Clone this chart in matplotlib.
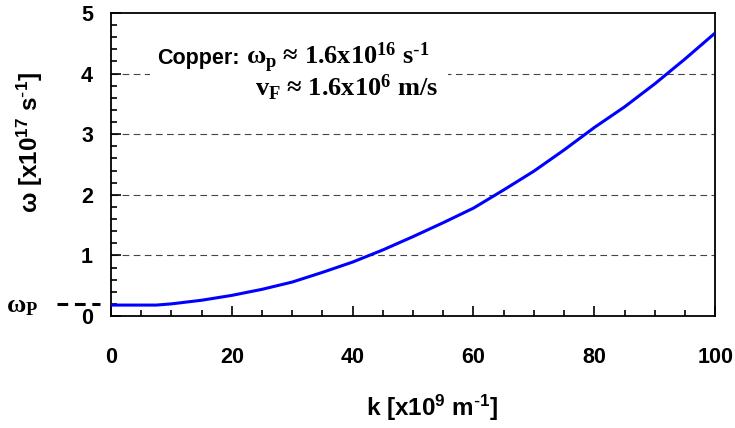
import matplotlib
matplotlib.use("Agg")
import matplotlib.pyplot as plt
from matplotlib.patches import Rectangle
from matplotlib.ticker import MultipleLocator

# dispersion curve
k_vals = [0, 5, 7.5, 10, 15, 20, 25, 30, 35, 40, 45, 50, 55, 60, 65, 70, 75, 80, 85, 90, 95, 100]
omega_vals = [0.18, 0.18, 0.18, 0.20, 0.26, 0.34, 0.44, 0.56, 0.72, 0.89, 1.09, 1.31,
              1.54, 1.78, 2.08, 2.39, 2.74, 3.11, 3.45, 3.83, 4.24, 4.67]
omega_p = 0.2
grid_levels = [1, 2, 3, 4]

plt.rcParams['mathtext.fontset'] = 'custom'
plt.rcParams['mathtext.default'] = 'regular'

sans = 'Liberation Sans'
serif = 'Liberation Serif'

fig = plt.figure(figsize=(7.35, 4.28), dpi=100)
ax = fig.add_axes([0.151, 0.2617, 0.822, 0.708])

for g in grid_levels:
	ax.axhline(g, color='#444444', lw=0.8, ls=(0, (6, 4)), zorder=1)

ax.plot(k_vals, omega_vals, color='#0000ff', lw=2.2, zorder=3,
	solid_joinstyle='round')

ax.set_xlim(0, 100)
ax.set_ylim(0, 5)
ax.xaxis.set_major_locator(MultipleLocator(20))
ax.xaxis.set_minor_locator(MultipleLocator(5))
ax.yaxis.set_major_locator(MultipleLocator(1))
ax.yaxis.set_minor_locator(MultipleLocator(0.2))
ax.tick_params(which='both', direction='in', width=1.2, color='black')
ax.tick_params(which='major', length=7)
ax.tick_params(which='minor', length=4)
ax.tick_params(axis='x', pad=22)
ax.tick_params(axis='y', pad=13)
for lab in ax.get_xticklabels() + ax.get_yticklabels():
	lab.set_fontfamily(sans)
	lab.set_fontweight('bold')
	lab.set_fontsize(15.5)
for sp in ax.spines.values():
	sp.set_linewidth(1.3)

fig.text(432 / 735, 1 - 408 / 428, 'k [x10$^9$ m$^{\\text{-}1}$]', ha='center', va='center',
	fontfamily=sans, fontweight='bold', fontsize=17.5)
fig.text(30 / 735, 1 - 143 / 428, 'ω [x10$^{17}$ s$^{\\text{-}1}$]', ha='center', va='center',
	rotation=90, fontfamily=sans, fontweight='bold', fontsize=17.5)

# omega_p marker left of the axis
ax.plot([-9, -1.8], [omega_p, omega_p], color='black', lw=2.2, ls=(0, (3.5, 2.2)),
	clip_on=False)
ax.text(-12.1, omega_p - 0.05, 'ω$_P$', ha='right', va='center',
	fontfamily=serif, fontweight='bold', fontsize=19)

# white patch behind the note, hides the grid line there
ax.add_patch(Rectangle((6.5, 3.55), 49.3, 0.85, facecolor='white', edgecolor='none', zorder=2))
ax.text(21.3, 4.16, 'Copper:', ha='right', va='baseline',
	fontfamily=sans, fontweight='bold', fontsize=15.5, zorder=4)
ax.text(22.3, 4.16, 'ω$_p$ ≈ 1.6x10$^{16}$ s$^{\\text{-}1}$', ha='left', va='baseline',
	fontfamily=serif, fontweight='bold', fontsize=19, zorder=4)
ax.text(23.8, 3.63, 'v$_F$ ≈ 1.6x10$^6$ m/s', ha='left', va='baseline',
	fontfamily=serif, fontweight='bold', fontsize=19, zorder=4)

fig.savefig('out.png', dpi=100)
